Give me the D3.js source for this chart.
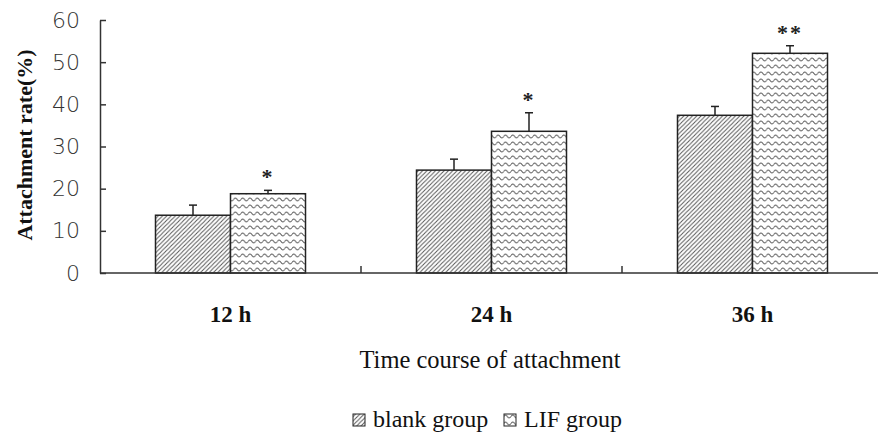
<!DOCTYPE html>
<html>
<head>
<meta charset="utf-8">
<script src="https://cdn.jsdelivr.net/npm/d3@7"></script>
<style>
  body { margin: 0; background: #fff; }
  svg { display: block; }
</style>
</head>
<body>
<svg id="chart" width="878" height="433"></svg>
<script>
// data
var categories = ["12 h", "24 h", "36 h"];
var groups = ["blank group", "LIF group"];
var blankValues = [13.7, 24.4, 37.4];
var blankErrors = [2.4, 2.6, 2.1];
var lifValues = [18.8, 33.6, 52.1];
var lifErrors = [0.8, 4.4, 1.8];
var marks = ["*", "*", "**"];
var yTicks = [0, 10, 20, 30, 40, 50, 60];

var svg = d3.select("#chart");
var plotLeft = 100, plotRight = 883, plotTop = 20, plotBottom = 273;

// patterns
var defs = svg.append("defs");
var hatch = defs.append("pattern")
  .attr("id", "hatch")
  .attr("patternUnits", "userSpaceOnUse")
  .attr("width", 4.3).attr("height", 4.3);
hatch.append("rect").attr("width", 4.3).attr("height", 4.3).attr("fill", "#fff");
hatch.append("path")
  .attr("d", "M-1,1 l2,-2 M0,4.3 l4.3,-4.3 M3.3,5.3 l2,-2")
  .attr("stroke", "#555").attr("stroke-width", 1);

var wave = defs.append("pattern")
  .attr("id", "wave")
  .attr("patternUnits", "userSpaceOnUse")
  .attr("width", 7.3).attr("height", 7);
wave.append("rect").attr("width", 7.3).attr("height", 7).attr("fill", "#fff");
wave.append("path")
  .attr("d", "M0,3.5 Q1.825,0.6 3.65,3.5 T7.3,3.5")
  .attr("fill", "none").attr("stroke", "#555").attr("stroke-width", 1);

var x = d3.scaleBand().domain(categories).range([plotLeft, plotRight]).padding(0);
var sub = d3.scaleBand().domain(groups).range([0, x.bandwidth()])
  .paddingInner(0).paddingOuter(0.74);
var y = d3.scaleLinear().domain([0, 60]).range([plotBottom, plotTop]);

// y axis
var yAxis = svg.append("g")
  .attr("transform", "translate(" + plotLeft + ",0)")
  .call(d3.axisLeft(y).tickValues(yTicks).tickSize(-6).tickSizeOuter(0).tickPadding(20));
yAxis.select(".domain").attr("stroke", "#333").attr("stroke-width", 1.5);
yAxis.selectAll(".tick line").attr("stroke", "#333").attr("stroke-width", 1.5);
yAxis.selectAll(".tick text")
  .attr("font-family", "DejaVu Sans, sans-serif")
  .attr("font-weight", 200)
  .attr("font-size", 22).attr("fill", "#333");

// bars
var rows = categories.map(function(c, i) {
  return [
    {cat: c, g: groups[0], v: blankValues[i], e: blankErrors[i], fill: "url(#hatch)"},
    {cat: c, g: groups[1], v: lifValues[i], e: lifErrors[i], fill: "url(#wave)"}
  ];
});
var flat = [].concat.apply([], rows);

svg.append("g").selectAll("rect")
  .data(flat).enter().append("rect")
  .attr("x", function(d) { return x(d.cat) + sub(d.g); })
  .attr("y", function(d) { return y(d.v); })
  .attr("width", sub.bandwidth())
  .attr("height", function(d) { return plotBottom - y(d.v); })
  .attr("fill", function(d) { return d.fill; })
  .attr("stroke", "#222").attr("stroke-width", 1.5);

// error bars (upper only)
var err = svg.append("g").attr("stroke", "#222").attr("stroke-width", 1.5);
flat.forEach(function(d) {
  var cx = x(d.cat) + sub(d.g) + sub.bandwidth() / 2;
  err.append("line").attr("x1", cx).attr("x2", cx)
    .attr("y1", y(d.v)).attr("y2", y(d.v + d.e));
  err.append("line").attr("x1", cx - 4).attr("x2", cx + 4)
    .attr("y1", y(d.v + d.e)).attr("y2", y(d.v + d.e));
});

// significance marks
svg.append("g").selectAll("text")
  .data(categories).enter().append("text")
  .attr("x", function(c) { return x(c) + sub(groups[1]) + sub.bandwidth() / 2; })
  .attr("y", function(c, i) { return y(lifValues[i] + lifErrors[i]) - 6; })
  .attr("text-anchor", "middle")
  .attr("font-family", "Liberation Serif, serif")
  .attr("font-weight", "bold")
  .attr("font-size", 22).attr("fill", "#222")
  .attr("letter-spacing", 2)
  .text(function(d, i) { return marks[i]; });

// x axis
svg.append("line")
  .attr("x1", plotLeft).attr("x2", 878)
  .attr("y1", plotBottom).attr("y2", plotBottom)
  .attr("stroke", "#333").attr("stroke-width", 1.5);
svg.append("g").selectAll("line")
  .data(categories.slice(1)).enter().append("line")
  .attr("x1", function(c) { return x(c); })
  .attr("x2", function(c) { return x(c); })
  .attr("y1", plotBottom).attr("y2", plotBottom - 7)
  .attr("stroke", "#333").attr("stroke-width", 1.5);

svg.append("g").selectAll("text")
  .data(categories).enter().append("text")
  .attr("x", function(c) { return x(c) + x.bandwidth() / 2; })
  .attr("y", 322)
  .attr("text-anchor", "middle")
  .attr("font-family", "Liberation Serif, serif")
  .attr("font-weight", "bold")
  .attr("font-size", 23).attr("fill", "#111")
  .text(function(d) { return d; });

svg.append("text")
  .attr("x", 490).attr("y", 368)
  .attr("text-anchor", "middle")
  .attr("font-family", "Liberation Serif, serif")
  .attr("font-size", 24.5).attr("fill", "#111")
  .text("Time course of attachment");

svg.append("text")
  .attr("transform", "translate(32,145) rotate(-90)")
  .attr("text-anchor", "middle")
  .attr("font-family", "Liberation Serif, serif")
  .attr("font-weight", "bold")
  .attr("font-size", 22).attr("fill", "#111")
  .text("Attachment rate(%)");

// legend
var legend = svg.append("g");
var legendX = [353, 504];
groups.forEach(function(g, i) {
  legend.append("rect")
    .attr("x", legendX[i]).attr("y", 414)
    .attr("width", 12).attr("height", 12)
    .attr("fill", i === 0 ? "url(#hatch)" : "url(#wave)")
    .attr("stroke", "#222").attr("stroke-width", 1);
  legend.append("text")
    .attr("x", legendX[i] + 20).attr("y", 427)
    .attr("font-family", "Liberation Serif, serif")
    .attr("font-size", 24).attr("fill", "#111")
    .text(g);
});
</script>
</body>
</html>
